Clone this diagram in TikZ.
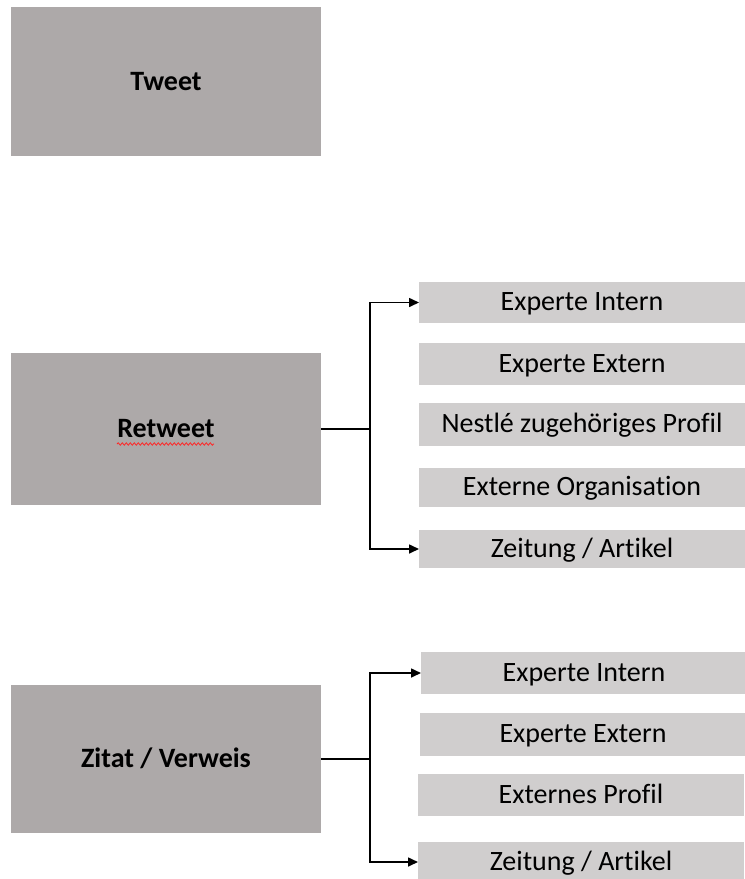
\documentclass[tikz,border=0pt]{standalone}
\usepackage{fontspec}
\setmainfont[Ligatures=NoCommon]{Carlito}
\usetikzlibrary{arrows.meta,decorations.pathmorphing}
\definecolor{darkbox}{HTML}{ADA9A9}
\definecolor{lightbox}{HTML}{D0CECE}
\tikzset{
  mainbox/.style={fill=darkbox, draw=none, inner sep=0pt, outer sep=0pt, anchor=north west,
    minimum width=310pt, text height=20pt, text depth=3pt, font=\fontsize{28}{33}\selectfont\bfseries},
  subbox/.style={fill=lightbox, draw=none, inner sep=0pt, outer sep=0pt, anchor=north west,
    minimum width=326pt, text height=20pt, text depth=4pt, font=\fontsize{28}{33}\selectfont},
  conn/.style={line width=1.6pt, black},
  arr/.style={conn, -{Triangle[length=10pt,width=9pt]}}
}
\begin{document}
\begin{tikzpicture}[x=1pt,y=-1pt]
\useasboundingbox (0,0) rectangle (745,879);
% main boxes
\node[mainbox, minimum height=149pt] (tw) at (11,7) {Tweet};
\node[mainbox, minimum height=152pt] (rt) at (11,353) {Retweet};
\node[mainbox, minimum height=148pt] (zv) at (11,685) {Zitat / Verweis};
% retweet sub boxes
\node[subbox, minimum height=41pt] (r1) at (419,282) {Experte Intern};
\node[subbox, minimum height=42pt] (r2) at (419,343) {Experte Extern};
\node[subbox, minimum height=43pt] (r3) at (419,403) {Nestlé zugehöriges Profil};
\node[subbox, minimum height=39pt] (r4) at (419,468) {Externe Organisation};
\node[subbox, minimum height=38pt] (r5) at (419,530) {Zeitung / Artikel};
% zitat sub boxes
\node[subbox, minimum height=42pt] (z1) at (421,652) {Experte Intern};
\node[subbox, minimum height=43pt] (z2) at (420,713) {Experte Extern};
\node[subbox, minimum height=42pt] (z3) at (418,774) {Externes Profil};
\node[subbox, minimum height=40pt] (z4) at (418,842) {Zeitung / Artikel};
% spell-check squiggle
\draw[red!85!white, line width=0.8pt, decorate, decoration={snake, amplitude=1.2pt, segment length=4pt}]
  ([xshift=-49pt,yshift=-15pt]rt.center) -- ([xshift=48pt,yshift=-15pt]rt.center);
% connectors retweet
\coordinate (j1) at ([xshift=49pt]rt.east);
\draw[conn] (rt.east) -- (j1);
\draw[arr] (j1) |- (r1.west);
\draw[arr] (j1) |- (r5.west);
% connectors zitat
\coordinate (j2) at ([xshift=49pt]zv.east);
\draw[conn] (zv.east) -- (j2);
\draw[arr] (j2) |- (z1.west);
\draw[arr] (j2) |- (z4.west);
\end{tikzpicture}
\end{document}
